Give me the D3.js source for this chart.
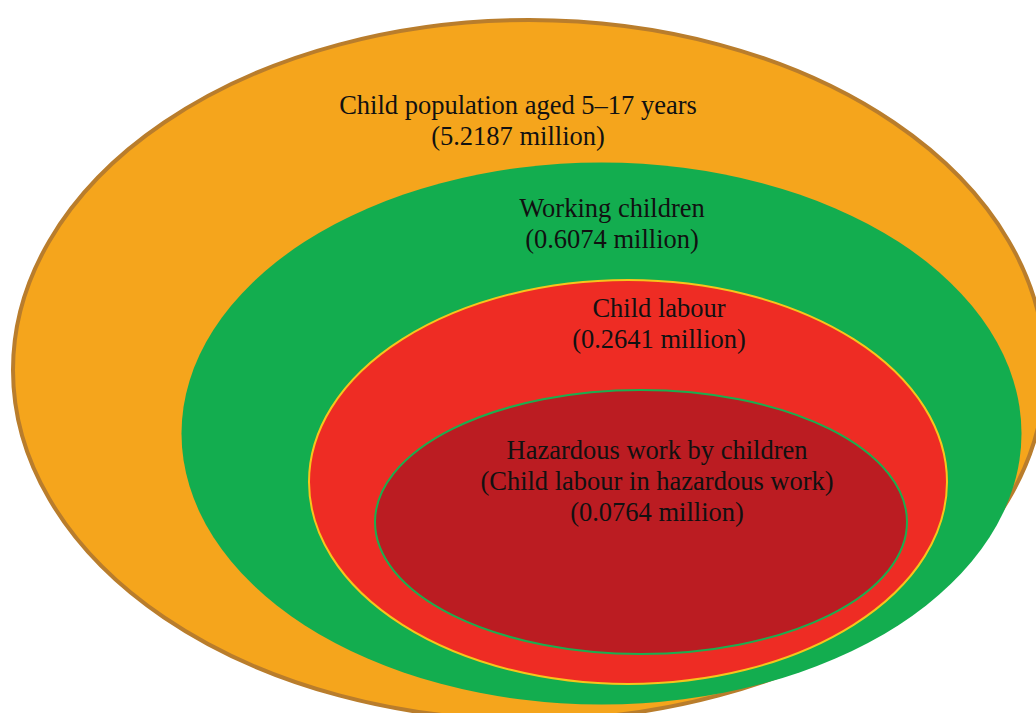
<!DOCTYPE html>
<html><head><meta charset="utf-8">
<script src="https://cdn.jsdelivr.net/npm/d3@7"></script>
<style>html,body{margin:0;padding:0;background:#fff;overflow:hidden}</style>
</head><body><svg id="c" width="1036" height="713"></svg>
<script>
// Data
const categories = ["Child population aged 5–17 years", "Working children", "Child labour", "Hazardous work by children"];
const subtitles = [[], [], [], ["(Child labour in hazardous work)"]];
const valuesMillion = [5.2187, 0.6074, 0.2641, 0.0764];

// Layout (geometry, not data)
const shapes = [
  {cx: 529, cy: 370, rx: 516, ry: 350, fill: "#f5a51c", stroke: "#b97d2c", sw: 4},
  {cx: 601.5, cy: 433.5, rx: 420, ry: 271, fill: "#13ad4f", stroke: "none", sw: 0},
  {cx: 628, cy: 482, rx: 319, ry: 202, fill: "#ee2c24", stroke: "#f7c51b", sw: 2},
  {cx: 641, cy: 522, rx: 266, ry: 132, fill: "#bb1c22", stroke: "#1cae4f", sw: 2}
];
const labelPos = [
  {x: 518, y: 114}, {x: 612, y: 217}, {x: 659, y: 317}, {x: 657, y: 459}
];

const svg = d3.select("#c");
const fmt = d3.format(".4f");
const items = categories.map((c, i) => ({name: c, sub: subtitles[i], value: valuesMillion[i], shape: shapes[i], lp: labelPos[i]}));

svg.selectAll("ellipse").data(items).join("ellipse")
  .attr("cx", d => d.shape.cx).attr("cy", d => d.shape.cy)
  .attr("rx", d => d.shape.rx).attr("ry", d => d.shape.ry)
  .attr("fill", d => d.shape.fill)
  .attr("stroke", d => d.shape.stroke)
  .attr("stroke-width", d => d.shape.sw);

const lh = 31;
const g = svg.selectAll("text.lbl").data(items).join("text")
  .attr("class", "lbl")
  .attr("text-anchor", "middle")
  .attr("font-family", "'Liberation Serif','Times New Roman',serif")
  .attr("font-size", 26.5)
  .attr("fill", "#111");
g.each(function(d){
  const lines = [d.name, ...d.sub, "(" + fmt(d.value) + " million)"];
  d3.select(this).selectAll("tspan").data(lines).join("tspan")
    .attr("x", d.lp.x).attr("y", (l, j) => d.lp.y + j * lh).text(l => l);
});
</script></body></html>
